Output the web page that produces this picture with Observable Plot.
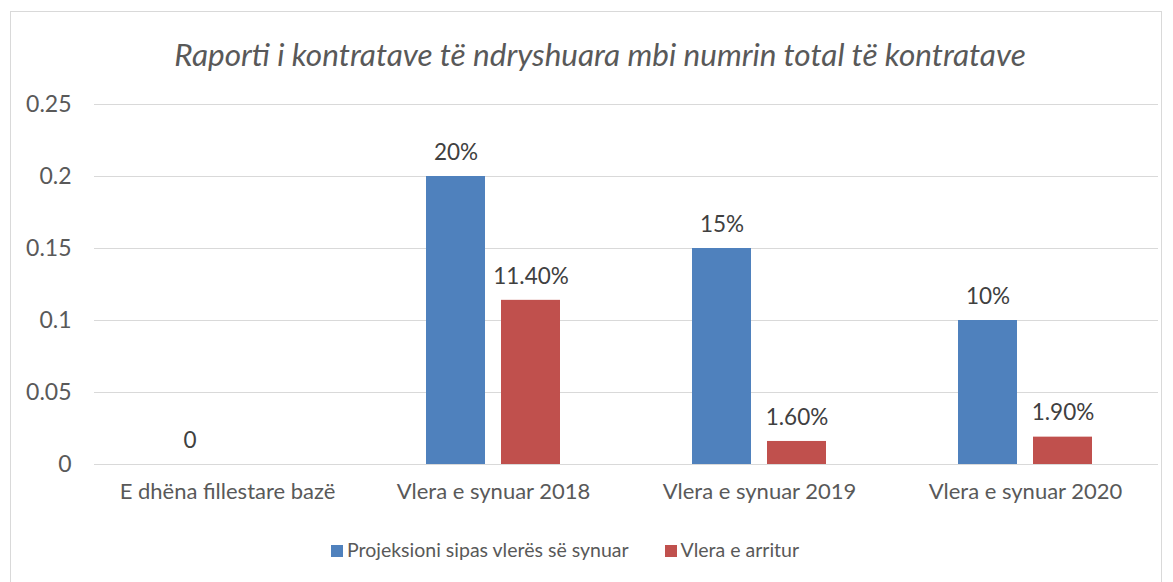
<!DOCTYPE html>
<html><head><meta charset="utf-8">
<script src="https://cdn.jsdelivr.net/npm/d3@7"></script>
<script src="https://cdn.jsdelivr.net/npm/@observablehq/plot@0.6"></script>
<style>
body{margin:0;background:#fff;font-family:Lato,"Open Sans",sans-serif;width:1173px;height:582px;overflow:hidden;position:relative}
#frame{position:absolute;left:10px;top:11px;width:1152px;height:620px;border:1px solid #d9d9d9;box-sizing:border-box}
#title{position:absolute;left:0;top:36px;width:1200px;text-align:center;font-style:italic;font-size:31.5px;line-height:37px;color:#595959}
#chart{position:absolute;left:0;top:80px}
#legend{position:absolute;left:0;top:538px;width:1130px;text-align:center;font-size:19.5px;line-height:24px;color:#595959;white-space:nowrap}
#legend span.sw{display:inline-block;width:12px;height:12px;margin-right:4px;vertical-align:0px}
#legend span.item{margin:0 18px}
</style></head><body>
<div id="frame"></div>
<div id="title">Raporti i kontratave të ndryshuara mbi numrin total të kontratave</div>
<div id="chart"></div>
<div id="legend"></div>
<script>
const categories = ["E dhëna fillestare bazë","Vlera e synuar 2018","Vlera e synuar 2019","Vlera e synuar 2020"];
const seriesNames = ["Projeksioni sipas vlerës së synuar","Vlera e arritur"];
const seriesColors = ["#4F81BD","#C0504D"];
const projected = [0, 0.20, 0.15, 0.10];
const projectedLabels = ["0","20%","15%","10%"];
const achieved = [null, 0.114, 0.016, 0.019];
const achievedLabels = ["","11.40%","1.60%","1.90%"];
const yTicks = [0,0.05,0.1,0.15,0.2,0.25];

const rows = [];
categories.forEach((c,i)=>{
  if (projected[i] != null) rows.push({cat:c, series:seriesNames[0], value:projected[i], label:projectedLabels[i]});
  if (achieved[i] != null) rows.push({cat:c, series:seriesNames[1], value:achieved[i], label:achievedLabels[i]});
});

const plot = Plot.plot({
  width:1173, height:434,
  marginLeft:93, marginRight:15, marginTop:24, marginBottom:50,
  style:{fontFamily:"Lato, 'Open Sans', sans-serif", background:"transparent"},
  fx:{domain:categories, padding:0, label:null},
  x:{domain:seriesNames, paddingInner:0.21, paddingOuter:0.857, axis:null},
  y:{domain:[0,0.25], axis:null},
  color:{domain:seriesNames, range:seriesColors},
  marks:[
    Plot.gridY(yTicks,{stroke:"#d9d9d9", strokeOpacity:1, strokeWidth:1}),
    Plot.axisY({ticks:yTicks, tickFormat:d=>String(d), tickSize:0, tickPadding:23, fontSize:23, fill:"#595959", label:null}),
    Plot.axisFx({anchor:"bottom", tickSize:0, tickPadding:19, fontSize:22, fill:"#595959", label:null}),
    Plot.barY(rows,{fx:"cat", x:"series", y:"value", fill:"series"}),
    Plot.text(rows,{fx:"cat", x:"series", y:"value", text:"label", dy:-24, fontSize:22.5, fill:"#404040"})
  ]
});
document.getElementById("chart").appendChild(plot);

const lg = document.getElementById("legend");
seriesNames.forEach((s,i)=>{
  const it = document.createElement("span"); it.className="item";
  const sw = document.createElement("span"); sw.className="sw"; sw.style.background=seriesColors[i];
  it.appendChild(sw); it.appendChild(document.createTextNode(s));
  lg.appendChild(it);
});
</script>
</body></html>
